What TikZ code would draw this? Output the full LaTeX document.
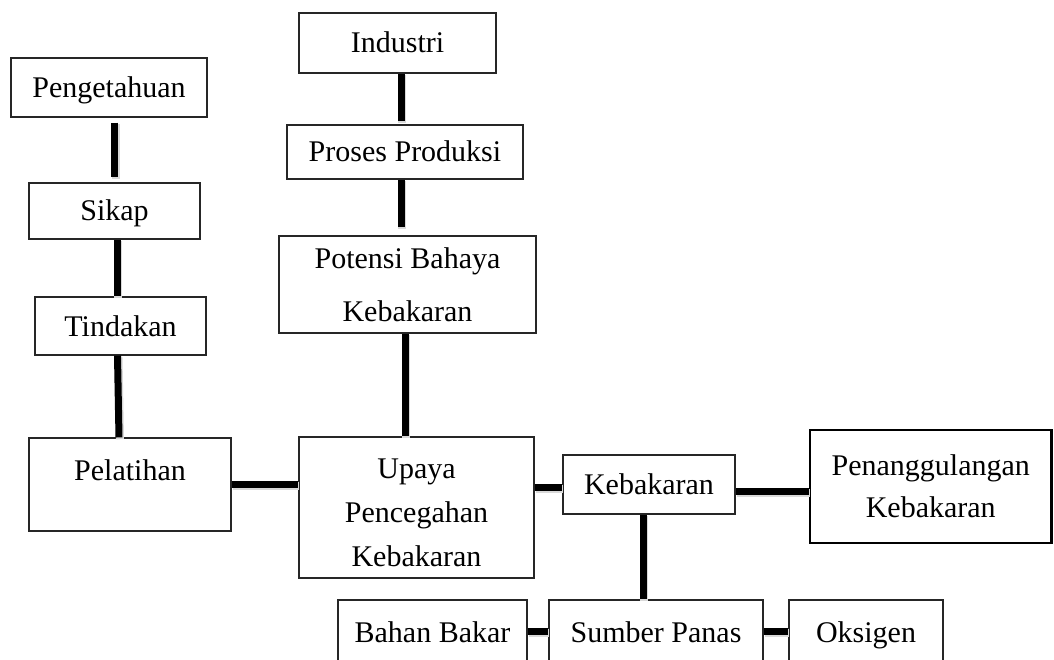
\documentclass[tikz,border=0pt]{standalone}
\usepackage{fontspec}
\setmainfont{Liberation Serif}
\begin{document}
\begin{tikzpicture}[x=1pt,y=-1pt,
  box/.style={draw=black!85, line width=1.1pt, inner sep=0pt, align=center,
    font=\fontsize{30}{44}\selectfont},
  txt/.style={inner sep=0pt, align=center, font=\fontsize{30}{44}\selectfont},
  one/.style={text height=20pt, text depth=0pt},
  conn/.style={line width=7pt,
    preaction={draw=black!15, line width=8pt,
      transform canvas={shift={(1pt,-1.8pt)}}}}]
\clip (0,0) rectangle (1054,660);
\fill[white] (0,0) rectangle (1054,660);
% left column
\node[box,one,minimum width=196pt,minimum height=59pt] (peng) at (109,87.5) {Pengetahuan};
\node[box,one,minimum width=171pt,minimum height=56pt] (sikap) at (114.5,211) {Sikap};
\node[box,one,minimum width=171pt,minimum height=58pt] (tind) at (120.5,326) {Tindakan};
\node[box,text height=20pt,text depth=29pt,minimum width=202pt,minimum height=93pt] (pel) at (130,484.5) {Pelatihan};
% middle column
\node[box,one,minimum width=197pt,minimum height=60pt] (ind) at (397.5,43) {Industri};
\node[box,one,minimum width=236pt,minimum height=54pt] (proses) at (405,152) {Proses Produksi};
\node[box,font=\fontsize{30}{53}\selectfont,minimum width=257pt,minimum height=97pt] (pot) at (407.5,284.5) {Potensi Bahaya\\Kebakaran};
\node[box,minimum width=235pt,minimum height=141pt] (upaya) at (416.5,507.5) {};
\node[txt] (upayatxt) at ([yshift=-5pt]upaya.center) {Upaya\\Pencegahan\\Kebakaran};
% right part
\node[box,one,minimum width=172pt,minimum height=59pt] (keb) at (649,484.5) {Kebakaran};
\node[box,line width=2.5pt,draw=black,font=\fontsize{30}{42}\selectfont,minimum width=241.5pt,minimum height=113pt] (pen) at (930.75,486.5) {Penanggulangan\\Kebakaran};
\node[box,one,minimum width=189pt,minimum height=65pt] (bahan) at (432.5,632.5) {Bahan Bakar};
\node[box,one,minimum width=214pt,minimum height=65pt] (sumber) at (656,632.5) {Sumber Panas};
\node[box,one,minimum width=154pt,minimum height=65pt] (oks) at (866,632.5) {Oksigen};
% connectors
\draw[conn, shorten <=5pt, shorten >=5pt] (sikap.north |- peng.south) -- (sikap.north);
\draw[conn] ([xshift=2.5pt]sikap.south) -- ([xshift=-3.5pt]tind.north);
\draw[conn] ([xshift=-3pt]tind.south) -- ([xshift=-11pt]pel.north);
\draw[conn] (pel.east) -- (pel.east -| upaya.west);
\draw[conn, shorten >=3pt] ([xshift=3.5pt]ind.south) -- ([xshift=-4pt]proses.north);
\draw[conn, shorten >=8pt] ([xshift=-4pt]proses.south) -- ([xshift=-6.5pt]pot.north);
\draw[conn] ([xshift=-2.5pt]pot.south) -- ([xshift=-11.5pt]upaya.north);
\draw[conn] ([yshift=-2.5pt]upaya.east |- keb.west) -- ([yshift=-2.5pt]keb.west);
\draw[conn] ([yshift=-7pt]keb.east) -- ([yshift=-7pt]keb.east -| pen.west);
\draw[conn] ([xshift=-6pt]keb.south) -- ([xshift=-6pt]keb.south |- sumber.north);
\draw[conn] ([yshift=1.5pt]bahan.east) -- ([yshift=1.5pt]bahan.east -| sumber.west);
\draw[conn] ([yshift=1.5pt]sumber.east) -- ([yshift=1.5pt]sumber.east -| oks.west);
\end{tikzpicture}
\end{document}
